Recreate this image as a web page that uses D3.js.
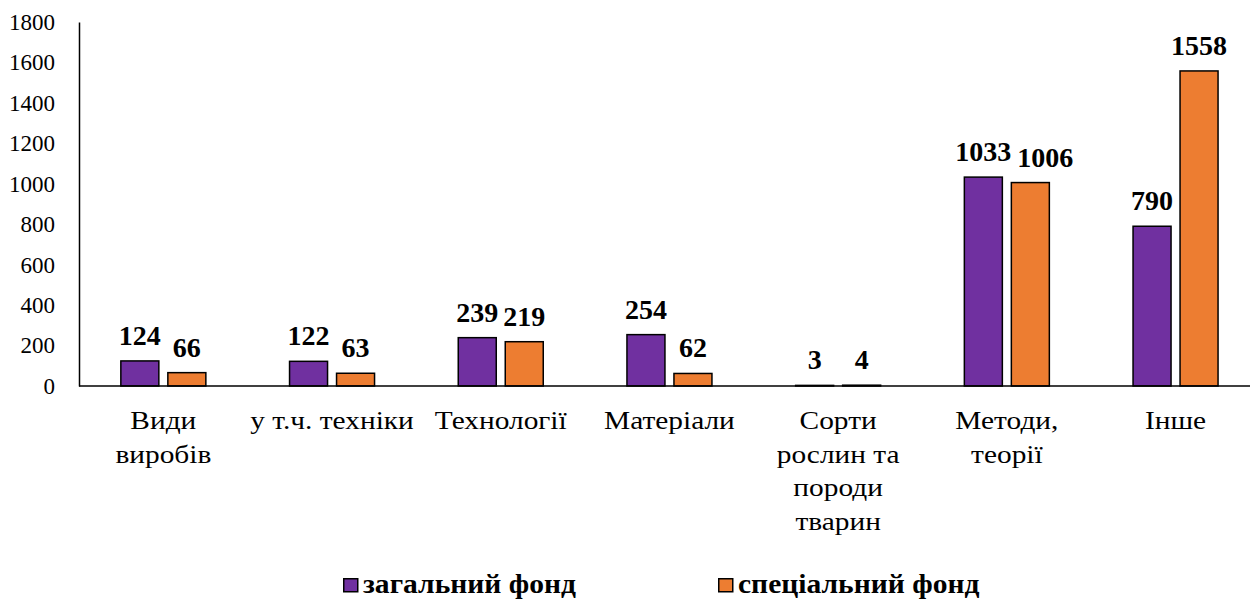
<!DOCTYPE html>
<html>
<head>
<meta charset="utf-8">
<script src="https://cdn.jsdelivr.net/npm/d3@7"></script>
<style>
  body { margin: 0; background: #fff; }
</style>
</head>
<body>
<div id="chart"></div>
<script>
// Data
const categories = [
    ["Види", "виробів"],
    ["у т.ч. техніки"],
    ["Технології"],
    ["Матеріали"],
    ["Сорти", "рослин та", "породи", "тварин"],
    ["Методи,", "теорії"],
    ["Інше"]
];
const generalFund = [124, 122, 239, 254, 3, 1033, 790];
const specialFund = [66, 63, 219, 62, 4, 1006, 1558];
const seriesNames = ["загальний фонд", "спеціальний фонд"];
const seriesColors = ["#7030A0", "#ED7D31"];
const yTicks = [0, 200, 400, 600, 800, 1000, 1200, 1400, 1600, 1800];

const FONT = "'Liberation Serif', 'Times New Roman', serif";

function createChart() {
    const W = 1250, H = 600;
    const left = 79, top = 22, bottom = 386;
    const bandStep = 168.7;

    const svg = d3.select("#chart")
        .append("svg")
        .attr("width", W)
        .attr("height", H)
        .style("font-family", FONT);

    const idx = categories.map((d, i) => i);

    // Scales
    const x = d3.scaleBand()
        .domain(idx)
        .range([left, left + bandStep * categories.length]);

    const y = d3.scaleLinear()
        .domain([0, 1800])
        .range([bottom, top]);

    const barW = 38, gap = 9;
    const subX = s => x.bandwidth() / 2 + (s === 0 ? -barW - gap / 2 : gap / 2);

    // Y axis
    const yAxis = svg.append("g")
        .attr("transform", `translate(${left},0)`)
        .call(d3.axisLeft(y).tickValues(yTicks).tickSize(0).tickPadding(24).tickFormat(d3.format("d")));
    yAxis.attr("font-family", null);
    yAxis.select(".domain").attr("stroke", "#000").attr("stroke-width", 1.5);
    yAxis.selectAll("text")
        .style("font-size", "23px")
        .style("font-family", FONT)
        .attr("fill", "#000");

    // Bars
    const series = [generalFund, specialFund];
    series.forEach((vals, s) => {
        svg.append("g")
            .selectAll("rect")
            .data(vals)
            .enter()
            .append("rect")
            .attr("x", (d, i) => x(i) + subX(s))
            .attr("y", d => y(d))
            .attr("width", barW)
            .attr("height", d => bottom - y(d))
            .attr("fill", seriesColors[s])
            .attr("stroke", "#000")
            .attr("stroke-width", 1.5);
    });

    // Value labels (second label nudged right if it collides with the first)
    const labelG = svg.append("g");
    idx.forEach(i => {
        const boxes = [];
        series.forEach((vals, s) => {
            const t = labelG.append("text")
                .attr("x", x(i) + subX(s) + barW / 2)
                .attr("y", y(vals[i]) - 16)
                .attr("text-anchor", "middle")
                .style("font-family", FONT)
                .style("font-size", "28px")
                .style("font-weight", "bold")
                .text(vals[i]);
            const b = t.node().getBBox();
            if (s === 1) {
                const p = boxes[0];
                const vOverlap = b.y < p.y + p.height - 6 && b.y + b.height > p.y;
                const hOverlap = b.x < p.x + p.width + 4;
                if (vOverlap && hOverlap) {
                    t.attr("x", +t.attr("x") + (p.x + p.width + 6 - b.x));
                }
            }
            boxes.push(t.node().getBBox());
        });
    });

    // X axis line
    svg.append("line")
        .attr("x1", left)
        .attr("x2", left + bandStep * categories.length)
        .attr("y1", bottom)
        .attr("y2", bottom)
        .attr("stroke", "#000")
        .attr("stroke-width", 1.5);

    // Category labels (the source font is a bit wider, so stretch horizontally)
    const catG = svg.append("g");
    categories.forEach((lines, i) => {
        const cx = x(i) + x.bandwidth() / 2;
        const t = catG.append("text")
            .attr("transform", `translate(${cx},429) scale(1.13,1)`)
            .attr("x", 0)
            .attr("y", 0)
            .attr("text-anchor", "middle")
            .style("font-family", FONT)
            .style("font-size", "26px");
        lines.forEach((ln, j) => {
            t.append("tspan")
                .attr("x", 0)
                .attr("dy", j === 0 ? 0 : 33.6)
                .text(ln);
        });
    });

    // Legend
    const legendX = [343, 718];
    seriesNames.forEach((name, s) => {
        const g = svg.append("g")
            .attr("transform", `translate(${legendX[s]}, 578)`);
        g.append("rect")
            .attr("x", 0.75)
            .attr("y", 0.75)
            .attr("width", 14)
            .attr("height", 13)
            .attr("fill", seriesColors[s])
            .attr("stroke", "#000")
            .attr("stroke-width", 1.5);
        g.append("text")
            .attr("transform", "translate(20,15) scale(1.095,1)")
            .style("font-family", FONT)
            .style("font-size", "27px")
            .style("font-weight", "bold")
            .text(name);
    });
}

createChart();
</script>
</body>
</html>
